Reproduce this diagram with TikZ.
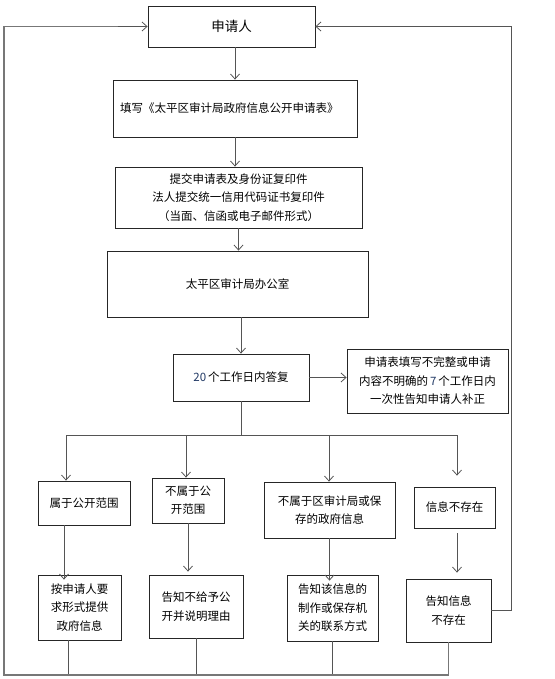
\documentclass[tikz,border=0pt]{standalone}
\usepackage{fontspec}
\setmainfont{Noto Sans CJK SC}
\usetikzlibrary{arrows.meta}
\definecolor{linegray}{HTML}{555555}
\definecolor{numblue}{HTML}{203864}
\begin{document}
\begin{tikzpicture}[x=1pt,y=-1pt,
  box/.style={draw=black!85,line width=0.8pt,inner sep=0pt,align=center,
    font=\fontsize{11.5}{18.5}\selectfont},
  conn/.style={draw=linegray,line width=0.8pt},
  arr/.style={conn,-{Straight Barb[length=5pt,width=9pt]}}]
\useasboundingbox (0,0) rectangle (554,679);
% nodes
\node[box,minimum width=167pt,minimum height=41pt,font=\fontsize{13.5}{16}\selectfont] (appl) at (231.5,26.5) {申请人};
\node[box,minimum width=244pt,minimum height=57pt,text width=230pt,align=left] (fill) at (235,108.5) {填写《太平区审计局政府信息公开申请表》};
\node[box,minimum width=247pt,minimum height=61pt] (submit) at (238.5,197.5) {\raisebox{-3pt}{}提交申请表及身份证复印件\\法人提交统一信用代码证书复印件\\（当面、信函或电子邮件形式）};
\node[box,minimum width=261pt,minimum height=66pt] (office) at (237.5,284) {太平区审计局办公室};
\node[box,minimum width=136pt,minimum height=47pt] (reply) at (241,377.5) {\textcolor{numblue}{20}\,个工作日内答复};
\node[box,minimum width=161pt,minimum height=64pt] (corr) at (427.5,381) {申请表填写不完整或申请\\内容不明确的\,\textcolor{numblue}{7}\,个工作日内\\一次性告知申请人补正};
\node[box,minimum width=92pt,minimum height=44pt] (b1) at (84,503) {属于公开范围};
\node[box,minimum width=72pt,minimum height=45pt] (b2) at (188,500.5) {不属于公\\开范围};
\node[box,minimum width=131pt,minimum height=56pt] (b3) at (329.5,510) {不属于区审计局或保\\存的政府信息};
\node[box,minimum width=81pt,minimum height=41pt] (b4) at (454.5,507.5) {信息不存在};
\node[box,minimum width=83pt,minimum height=65pt] (c1) at (79.5,607.5) {按申请人要\\求形式提供\\政府信息};
\node[box,minimum width=94pt,minimum height=63pt] (c2) at (196,606.5) {告知不给予公\\开并说明理由};
\node[box,minimum width=91pt,minimum height=66pt] (c3) at (332.5,608) {告知该信息的\\制作或保存机\\关的联系方式};
\node[box,minimum width=85pt,minimum height=63pt] (c4) at (448.5,610.5) {告知信息\\不存在};
% helper coordinates
\coordinate (split) at (241,435);
\coordinate (h1) at (66,435);
\coordinate (h2) at (186,435);
\coordinate (h3) at (329,435);
\coordinate (h4) at (457,435);
\coordinate (hr) at (458,435);
\coordinate (x1) at (64,0);
\coordinate (xr1) at (68,0);
\coordinate (bl) at (4,675);
\coordinate (rr) at (511,0);
% main chain
\draw[arr] (appl.south -| fill.north) -- (fill.north);
\draw[arr] (fill.south) -- (fill.south |- submit.north);
\draw[arr] (submit.south) -- (submit.south |- office.north);
\draw[arr] (reply.north |- office.south) -- (reply.north);
\draw[arr] (reply.east) -- (corr.west |- reply.east);
% branching
\draw[conn] (reply.south) -- (split);
\draw[conn] (h1) -- (hr);
\draw[arr] (h1) -- (h1 |- b1.north);
\draw[arr] (h2) -- (h2 |- b2.north);
\draw[arr] (h3) -- (h3 |- b3.north);
\draw[arr,shorten >=11pt] (h4) -- (h4 |- b4.north);
% second level
\draw[arr,shorten >=-5pt] (b1.south -| x1) -- (c1.north -| x1);
\draw[arr,shorten >=3pt] (b2.south) -- (b2.south |- c2.north);
\draw[arr,shorten >=-6pt] (b3.south) -- (b3.south |- c3.north);
\draw[arr,shorten <=5pt,shorten >=6pt] (b4.south -| h4) -- (c4.north -| h4);
% returns
\draw[conn] (c1.south -| xr1) -- (xr1 |- bl);
\draw[conn] (c2.south) -- (c2.south |- bl);
\draw[conn] (c3.south) -- (c3.south |- bl);
\draw[conn,line width=1.4pt,draw=linegray!80] (c4.south) |- (bl) |- ([xshift=-1pt]appl.west);
\draw[arr] ([xshift=-30pt]appl.west) -- (appl.west);
\draw[arr] (c4.east) -| (rr |- appl.east) -- (appl.east);
\end{tikzpicture}
\end{document}
